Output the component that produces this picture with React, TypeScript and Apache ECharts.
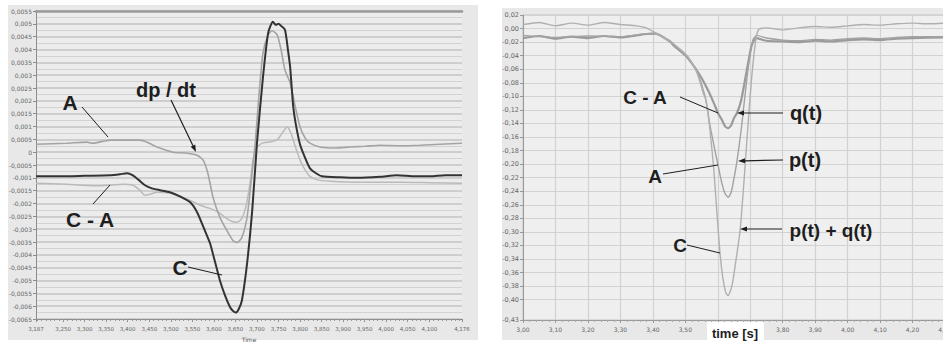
import { useEffect, useRef } from "react";
import * as echarts from "echarts";

// ---------- Left panel: pressure signals vs. time (s) ----------
const leftXLabels = [3.187, 3.25, 3.3, 3.35, 3.4, 3.45, 3.5, 3.55, 3.6, 3.65, 3.7, 3.75, 3.8, 3.85, 3.9, 3.95, 4.0, 4.05, 4.1, 4.176];

// C (dark trace)
const leftC: [number, number][] = [
  [3.187, -0.00094], [3.243, -0.00094], [3.301, -0.00092], [3.359, -0.0009], [3.382, -0.00086],
  [3.398, -0.00082], [3.412, -0.0009], [3.426, -0.00109], [3.44, -0.00129], [3.456, -0.00141],
  [3.475, -0.00148], [3.498, -0.00156], [3.521, -0.00172], [3.545, -0.00195], [3.561, -0.00234],
  [3.577, -0.00297], [3.591, -0.00355], [3.603, -0.0043], [3.614, -0.005], [3.626, -0.00559],
  [3.637, -0.00602], [3.644, -0.00618], [3.651, -0.00625], [3.658, -0.0061], [3.665, -0.00578],
  [3.677, -0.00434], [3.689, -0.00227], [3.7, 0.00035], [3.714, 0.00293], [3.726, 0.00465],
  [3.737, 0.00508], [3.744, 0.00496], [3.75, 0.005], [3.756, 0.00492], [3.765, 0.00477],
  [3.772, 0.00398], [3.777, 0.00332], [3.784, 0.0018], [3.79, 0.0011], [3.8, 0.0003],
  [3.812, -0.00023], [3.823, -0.00063], [3.837, -0.00082], [3.851, -0.00094], [3.893, -0.00098],
  [3.932, -0.001], [3.986, -0.00096], [4.025, -0.0009], [4.067, -0.00094], [4.102, -0.00094],
  [4.137, -0.0009], [4.176, -0.0009],
];

// A = dp/dt (light trace)
const leftA: [number, number][] = [
  [3.187, 0.00031], [3.259, 0.00035], [3.305, 0.00039], [3.318, 0.00035], [3.359, 0.00047],
  [3.428, 0.00047], [3.445, 0.00039], [3.468, 0.0002], [3.505, 0.0], [3.538, -0.00004],
  [3.561, -0.00012], [3.575, -0.00031], [3.586, -0.00082], [3.598, -0.00176], [3.614, -0.00254],
  [3.63, -0.00305], [3.644, -0.00344], [3.654, -0.00352], [3.665, -0.00332], [3.677, -0.00254],
  [3.686, -0.00121], [3.696, 0.00035], [3.705, 0.0023], [3.714, 0.00387], [3.726, 0.00457],
  [3.735, 0.00473], [3.747, 0.00457], [3.756, 0.00398], [3.765, 0.0032], [3.777, 0.0027],
  [3.788, 0.00184], [3.8, 0.00098], [3.812, 0.00055], [3.823, 0.00035], [3.846, 0.0002],
  [3.881, 0.00016], [3.916, 0.0002], [3.951, 0.00023], [3.986, 0.00027], [4.032, 0.00025],
  [4.079, 0.00027], [4.125, 0.00031], [4.176, 0.00035],
];

// C - A (lighter trace)
const leftCA: [number, number][] = [
  [3.187, -0.00121], [3.259, -0.00125], [3.296, -0.00129], [3.336, -0.00131], [3.389, -0.00125],
  [3.412, -0.00129], [3.428, -0.00148], [3.44, -0.00168], [3.452, -0.00164], [3.468, -0.00156],
  [3.498, -0.0016], [3.521, -0.00172], [3.545, -0.00188], [3.568, -0.00207], [3.591, -0.00219],
  [3.61, -0.00234], [3.626, -0.00254], [3.642, -0.0027], [3.654, -0.00273], [3.665, -0.00258],
  [3.675, -0.00207], [3.684, -0.00121], [3.691, -0.00031], [3.698, 0.00016], [3.712, 0.00035],
  [3.726, 0.00039], [3.74, 0.00043], [3.749, 0.00051], [3.76, 0.00078], [3.77, 0.00098],
  [3.779, 0.00074], [3.788, 0.00027], [3.8, -0.00031], [3.812, -0.0007], [3.823, -0.00094],
  [3.842, -0.00109], [3.87, -0.00113], [3.939, -0.00117], [4.032, -0.00117], [4.102, -0.00119],
  [4.176, -0.00121],
];

// ---------- Right panel: flow components vs. time [s] ----------
// 3,60 and 3,70 sit under the "time [s]" caption box, so they are not labelled
const rightXLabels = [3.0, 3.1, 3.2, 3.3, 3.4, 3.5, 3.8, 3.9, 4.0, 4.1, 4.2, 4.3];
const rightYLabels = [0.02, 0, -0.02, -0.04, -0.06, -0.08, -0.1, -0.12, -0.14, -0.16, -0.18, -0.2, -0.22, -0.24, -0.26, -0.28, -0.3, -0.32, -0.34, -0.36, -0.38, -0.4, -0.43];

// C = p(t) + q(t)
const rightC: [number, number][] = [
  [3.0, 0.006], [3.05, 0.009], [3.1, 0.004], [3.15, 0.008], [3.2, 0.005], [3.25, 0.009],
  [3.3, 0.006], [3.35, 0.004], [3.38, 0.001], [3.41, -0.007], [3.453, -0.018], [3.505, -0.04],
  [3.536, -0.065], [3.555, -0.095], [3.564, -0.106], [3.576, -0.15], [3.588, -0.209],
  [3.598, -0.276], [3.607, -0.332], [3.616, -0.369], [3.625, -0.39], [3.632, -0.394],
  [3.644, -0.379], [3.656, -0.342], [3.669, -0.297], [3.681, -0.224], [3.693, -0.143],
  [3.705, -0.069], [3.718, -0.014], [3.727, -0.001], [3.75, 0.001], [3.8, -0.002], [3.85, 0.001],
  [3.9, 0.003], [3.95, 0.002], [4.0, 0.004], [4.05, 0.006], [4.1, 0.005], [4.15, 0.007],
  [4.2, 0.008], [4.25, 0.007], [4.3, 0.008],
];

// A = p(t)
const rightA: [number, number][] = [
  [3.0, -0.01], [3.1, -0.013], [3.2, -0.011], [3.3, -0.012], [3.38, -0.008], [3.41, -0.008],
  [3.453, -0.02], [3.505, -0.04], [3.536, -0.064], [3.561, -0.1], [3.576, -0.143], [3.588, -0.172],
  [3.601, -0.202], [3.613, -0.229], [3.622, -0.243], [3.632, -0.249], [3.641, -0.242],
  [3.65, -0.221], [3.659, -0.196], [3.672, -0.15], [3.684, -0.098], [3.696, -0.05],
  [3.708, -0.017], [3.721, -0.01], [3.75, -0.014], [3.8, -0.017], [3.85, -0.018], [3.9, -0.016],
  [3.95, -0.017], [4.0, -0.015], [4.05, -0.014], [4.1, -0.015], [4.15, -0.013], [4.2, -0.012],
  [4.3, -0.012],
];

// C - A = q(t)
const rightCA: [number, number][] = [
  [3.0, -0.014], [3.05, -0.011], [3.1, -0.015], [3.15, -0.012], [3.2, -0.014], [3.25, -0.011],
  [3.3, -0.013], [3.35, -0.01], [3.38, -0.008], [3.407, -0.007], [3.453, -0.019], [3.462, -0.024],
  [3.505, -0.042], [3.545, -0.069], [3.57, -0.091], [3.588, -0.11], [3.601, -0.125],
  [3.613, -0.135], [3.622, -0.144], [3.632, -0.147], [3.641, -0.143], [3.65, -0.132],
  [3.659, -0.125], [3.672, -0.106], [3.684, -0.076], [3.696, -0.044], [3.705, -0.024],
  [3.718, -0.014], [3.75, -0.018], [3.8, -0.019], [3.85, -0.02], [3.9, -0.018], [3.95, -0.019],
  [4.0, -0.017], [4.05, -0.016], [4.1, -0.017], [4.15, -0.015], [4.2, -0.014], [4.3, -0.013],
];

// evenly spaced minor tick positions
function steps(from: number, to: number, step: number): number[] {
  const out: number[] = [];
  const n = Math.round((to - from) / step);
  for (let i = 0; i <= n; i++) out.push(+(from + i * step).toFixed(6));
  return out;
}

const comma = (s: string) => s.replace(".", ",");
const AXIS_FONT = "DejaVu Sans";
const NOTE_FONT = "Liberation Sans, Arial, sans-serif";

function note(text: string, x: number, y: number, size: number) {
  return {
    type: "text",
    z: 50,
    x,
    y,
    style: {
      text,
      fill: "#1e1e1e",
      font: `bold ${size}px ${NOTE_FONT}`,
      align: "center",
      verticalAlign: "middle",
      textAlign: "center",
      textVerticalAlign: "middle",
    },
  };
}

function leader(x1: number, y1: number, x2: number, y2: number) {
  return {
    type: "line",
    z: 50,
    shape: { x1, y1, x2, y2 },
    style: { stroke: "#1e1e1e", lineWidth: 1 },
  };
}

function arrow(x1: number, y1: number, x2: number, y2: number) {
  const dx = x2 - x1;
  const dy = y2 - y1;
  const len = Math.hypot(dx, dy);
  const ux = dx / len;
  const uy = dy / len;
  const hl = 7;
  const hw = 2.5;
  const bx = x2 - ux * hl;
  const by = y2 - uy * hl;
  return [
    { type: "line", z: 50, shape: { x1, y1, x2: bx, y2: by }, style: { stroke: "#1e1e1e", lineWidth: 1.2 } },
    {
      type: "polygon",
      z: 50,
      shape: { points: [[x2, y2], [bx - uy * hw, by + ux * hw], [bx + uy * hw, by - ux * hw]] },
      style: { fill: "#1e1e1e" },
    },
  ];
}

export default function App() {
  const ref = useRef<HTMLDivElement>(null);

  useEffect(() => {
    if (!ref.current) return;
    const chart = echarts.init(ref.current, undefined, { renderer: "svg" });

    const leftMin = leftXLabels[0];
    const leftMax = leftXLabels[leftXLabels.length - 1];

    const option: any = {
      animation: false,
      backgroundColor: "transparent",
      textStyle: { fontFamily: AXIS_FONT },
      grid: [
        {
          left: 36, top: 11, width: 426, height: 308,
          outerBoundsMode: "none",
          show: true, backgroundColor: "#ececec", borderWidth: 0,
        },
        {
          left: 523, top: 15, width: 422, height: 305,
          outerBoundsMode: "none",
          show: true, backgroundColor: "#efefef", borderColor: "#c4c4c4", borderWidth: 1,
        },
      ],
      xAxis: [
        {
          gridIndex: 0,
          type: "value",
          position: "bottom",
          min: leftMin,
          max: leftMax,
          axisLine: { show: true, onZero: false, lineStyle: { color: "#8c8c8c" } },
          axisTick: { show: true, length: 3, customValues: leftXLabels, lineStyle: { color: "#8c8c8c" } },
          axisLabel: {
            customValues: leftXLabels,
            formatter: (v: number) => comma(v.toFixed(3)),
            fontSize: 5.5,
            color: "#666",
            margin: 7,
          },
          splitLine: { show: false },
          name: "Time",
          nameLocation: "middle",
          nameGap: 16,
          nameTextStyle: { fontSize: 6, color: "#555" },
        },
        {
          gridIndex: 0,
          type: "value",
          position: "bottom",
          min: leftMin,
          max: leftMax,
          axisLine: { show: false, onZero: false },
          axisTick: { show: true, length: 2, customValues: steps(3.19, 4.17, 0.01), lineStyle: { color: "#9a9a9a" } },
          axisLabel: { show: false },
          splitLine: { show: false },
        },
        {
          gridIndex: 0,
          type: "value",
          position: "top",
          min: leftMin,
          max: leftMax,
          axisLine: { show: true, onZero: false, lineStyle: { color: "#9a9a9a", width: 2.5 } },
          axisTick: { show: false },
          axisLabel: { show: false },
          splitLine: { show: false },
        },
        {
          gridIndex: 1,
          type: "value",
          min: 3.0,
          max: 4.3,
          interval: 0.1,
          axisLine: { show: true, onZero: false, lineStyle: { color: "#9a9a9a" } },
          axisTick: { show: true, length: 3, lineStyle: { color: "#9a9a9a" } },
          minorTick: { show: true, splitNumber: 5, length: 2, lineStyle: { color: "#a8a8a8" } },
          axisLabel: {
            customValues: rightXLabels,
            formatter: (v: number) => comma(v.toFixed(2)),
            fontSize: 6,
            color: "#666",
            margin: 6,
          },
          splitLine: { show: true, lineStyle: { color: "#d2d2d2", width: 1.2 } },
        },
      ],
      yAxis: [
        {
          gridIndex: 0,
          type: "value",
          min: -0.0065,
          max: 0.0055,
          interval: 0.0005,
          axisLine: { show: true, onZero: false, lineStyle: { color: "#8c8c8c" } },
          axisTick: { show: true, length: 3, lineStyle: { color: "#8c8c8c" } },
          axisLabel: {
            fontSize: 6,
            color: "#666",
            margin: 4,
            formatter: (v: number) => comma(String(parseFloat(v.toFixed(4)))),
          },
          splitLine: { show: true, lineStyle: { color: "#c4c4c4", width: 1.5 } },
          minorTick: { show: false, splitNumber: 2 },
          minorSplitLine: { show: true, lineStyle: { color: "#d3d3d3", width: 1.2 } },
        },
        {
          gridIndex: 1,
          type: "value",
          min: -0.43,
          max: 0.02,
          axisLine: { show: true, onZero: false, lineStyle: { color: "#9a9a9a" } },
          axisTick: { show: true, length: 3, customValues: rightYLabels, lineStyle: { color: "#9a9a9a" } },
          axisLabel: {
            customValues: rightYLabels,
            fontSize: 6.5,
            color: "#666",
            margin: 4,
            formatter: (v: number) => comma(v.toFixed(2)),
          },
          splitLine: { show: true, lineStyle: { color: "#d2d2d2", width: 1.2 } },
        },
        {
          gridIndex: 1,
          type: "value",
          min: -0.43,
          max: 0.02,
          axisLine: { show: false, onZero: false },
          axisTick: { show: true, length: 2, customValues: steps(-0.43, 0.02, 0.005), lineStyle: { color: "#a8a8a8" } },
          axisLabel: { show: false },
          splitLine: { show: false },
        },
      ],
      series: [
        {
          name: "C - A",
          type: "line",
          xAxisIndex: 0,
          yAxisIndex: 0,
          data: leftCA,
          symbol: "none",
          smooth: 0.2,
          lineStyle: { color: "#bababa", width: 1.5 },
          z: 3,
        },
        {
          name: "A",
          type: "line",
          xAxisIndex: 0,
          yAxisIndex: 0,
          data: leftA,
          symbol: "none",
          smooth: 0.2,
          lineStyle: { color: "#a4a4a4", width: 1.6 },
          z: 4,
        },
        {
          name: "C",
          type: "line",
          xAxisIndex: 0,
          yAxisIndex: 0,
          data: leftC,
          symbol: "none",
          smooth: 0.2,
          lineStyle: { color: "#333333", width: 2 },
          z: 5,
        },
        {
          name: "q(t)",
          type: "line",
          xAxisIndex: 3,
          yAxisIndex: 1,
          data: rightCA,
          symbol: "none",
          smooth: 0.2,
          lineStyle: { color: "#9a9a9a", width: 2.2 },
          z: 3,
        },
        {
          name: "p(t)",
          type: "line",
          xAxisIndex: 3,
          yAxisIndex: 1,
          data: rightA,
          symbol: "none",
          smooth: 0.2,
          lineStyle: { color: "#a2a2a2", width: 1.4 },
          z: 4,
        },
        {
          name: "p(t) + q(t)",
          type: "line",
          xAxisIndex: 3,
          yAxisIndex: 1,
          data: rightC,
          symbol: "none",
          smooth: 0.2,
          lineStyle: { color: "#b0b0b0", width: 1.4 },
          z: 5,
        },
      ],
      graphic: [
        // left panel annotations
        note("A", 70, 102, 21),
        leader(82, 107, 108, 137),
        note("dp / dt", 166, 90, 20),
        ...arrow(171, 100, 196, 152),
        note("C - A", 90, 219, 21),
        leader(93, 204, 110, 185),
        note("C", 180, 267, 21),
        leader(188, 267, 222, 275),
        // right panel annotations
        note("C - A", 645, 97, 19),
        leader(680, 97, 718, 113),
        note("q(t)", 806, 113, 20),
        ...arrow(783, 113, 737, 113),
        note("A", 655, 176, 19),
        leader(663, 174, 718, 165),
        note("p(t)", 805, 160, 20),
        ...arrow(783, 160, 738, 161),
        note("C", 680, 245, 19),
        leader(687, 245, 720, 253),
        note("p(t) + q(t)", 831, 230, 19),
        ...arrow(782, 229, 740, 229),
        {
          type: "rect",
          z: 60,
          shape: { x: 707, y: 322, width: 57, height: 21 },
          style: { fill: "#ffffff" },
        },
        { ...note("time [s]", 735, 333, 13), z: 61 },
      ],
    };

    chart.setOption(option);
    return () => chart.dispose();
  }, []);

  return (
    <div style={{ position: "absolute", left: 0, top: 0, width: 943, height: 343, background: "#ffffff", overflow: "hidden" }}>
      <div style={{ position: "absolute", left: 8, top: 5, width: 470, height: 335, background: "#e8e8e8" }} />
      <div style={{ position: "absolute", left: 502, top: 8, width: 441, height: 332, background: "#e8e8e8" }} />
      <div ref={ref} style={{ position: "absolute", left: 0, top: 0, width: 943, height: 343 }} />
    </div>
  );
}
